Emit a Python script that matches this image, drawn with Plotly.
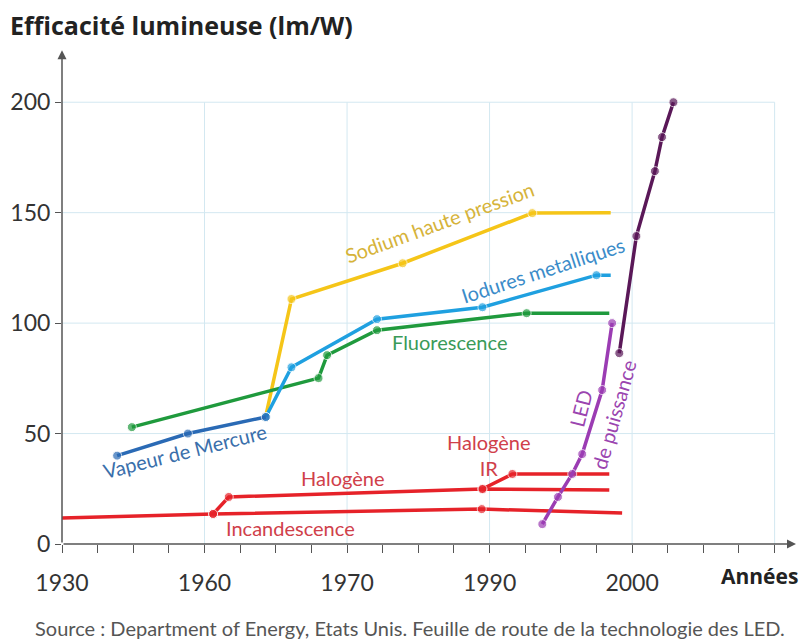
import numpy as np
import plotly.graph_objects as go

# ---- data (years, efficacy lm/W) ----
tick_years = [1930, 1960, 1970, 1990, 2000, 2010]
tick_labels = ["1930", "1960", "1970", "1990", "2000", ""]
y_ticks = [0, 50, 100, 150, 200]

mercure_x = [1941.6, 1956.5, 1964.3]
mercure_y = [40, 50, 57.5]

iodures_x = [1964.3, 1966.1, 1974.2, 1989.0, 1997.5, 1998.5]
iodures_y = [57.5, 80, 101.8, 107.2, 121.7, 121.7]

sodium_x = [1964.3, 1966.1, 1977.8, 1993.0, 1998.5]
sodium_y = [58, 110.9, 127.1, 149.8, 150]

fluo_x = [1944.7, 1968.0, 1968.6, 1974.2, 1992.6, 1998.4]
fluo_y = [52.9, 75.1, 85.5, 96.8, 104.5, 104.5]

incand_x = [1930, 1960.6, 1988.9, 1999.3]
incand_y = [11.8, 13.6, 15.8, 14.0]

halo_x = [1960.6, 1961.7, 1989.0, 1998.4]
halo_y = [13.6, 21.3, 24.9, 24.4]

haloir_x = [1989.0, 1991.6, 1998.4]
haloir_y = [24.9, 31.7, 31.7]

led_x = [1993.7, 1994.8, 1995.8, 1996.5, 1997.9, 1998.6]
led_y = [9.0, 21.3, 31.7, 40.7, 69.7, 100]

led2_x = [1999.1, 2000.3, 2001.6, 2002.1, 2002.9]
led2_y = [86.4, 139.4, 168.8, 184.2, 200]

tick_pos = list(range(len(tick_years)))


def pos(years):
    return np.interp(years, tick_years, tick_pos)


FONT = "Lato"
fig = go.Figure()


def add(xs, ys, color, marks):
    sizes = [9 if m else 0 for m in marks]
    fig.add_trace(go.Scatter(
        x=pos(xs), y=ys, mode="lines+markers",
        line=dict(color=color, width=3.5),
        marker=dict(color=color, size=sizes),
        cliponaxis=False, showlegend=False, hoverinfo="skip"))


add(incand_x, incand_y, "#e62229", [0, 1, 1, 0])
add(halo_x, halo_y, "#e62229", [1, 1, 1, 0])
add(haloir_x, haloir_y, "#e62229", [1, 1, 0])
add(sodium_x, sodium_y, "#f5c518", [0, 1, 1, 1, 0])
add(fluo_x, fluo_y, "#1f9a3d", [1, 1, 1, 1, 1, 0])
add(iodures_x, iodures_y, "#1fa0e0", [1, 1, 1, 1, 1, 0])
add(mercure_x, mercure_y, "#2a6ab5", [1, 1, 1])
add(led_x, led_y, "#9b3cb3", [1, 1, 1, 1, 1, 1])
add(led2_x, led2_y, "#5a1858", [1, 1, 1, 1, 1])

X_MAX = 5.15
Y_MAX = 225

shapes = []
grid_c = "#d3e8f1"
for v in y_ticks[1:]:
    shapes.append(dict(type="line", xref="x", yref="y", x0=0, x1=tick_pos[-1], y0=v, y1=v,
                       line=dict(color=grid_c, width=1), layer="below"))
for p in tick_pos[1:]:
    shapes.append(dict(type="line", xref="x", yref="y", x0=p, x1=p, y0=0, y1=y_ticks[-1],
                       line=dict(color=grid_c, width=1), layer="below"))

ann = []
axis_c = "#555555"
ann.append(dict(x=X_MAX, y=0, ax=0, ay=0, axref="x", ayref="y", xref="x", yref="y",
                showarrow=True, arrowhead=2, arrowsize=1.2, arrowwidth=1.5,
                arrowcolor=axis_c, text=""))
ann.append(dict(x=0, y=223.5, ax=0, ay=0, axref="x", ayref="y", xref="x", yref="y",
                showarrow=True, arrowhead=2, arrowsize=1.2, arrowwidth=1.5,
                arrowcolor=axis_c, text=""))


def label(text, u, v, color, angle=0, size=20):
    ann.append(dict(x=u, y=v, xref="x", yref="y", text=text, showarrow=False,
                    textangle=angle, font=dict(family=FONT, size=size, color=color)))


label("Sodium haute pression", 2.651, 145.7, "#d6b33a", -20)
label("Iodures metalliques", 3.373, 124.0, "#3b8cc9", -18)
label("Fluorescence", 2.721, 91.4, "#3a9a58")
label("Vapeur de Mercure", 0.863, 42.1, "#3a6fab", -14)
label("Halogène", 1.971, 29.9, "#d0404a")
label("Incandescence", 1.606, 7.2, "#d0404a")
label("Halogène<br>IR", 2.994, 40.3, "#d0404a")
label("LED", 3.64, 61.5, "#9b45b0", -76)
label("de puissance", 3.871, 58.4, "#9b45b0", -74)

W = 734.4
H = 497
ann.append(dict(xref="paper", yref="paper", x=(8 - 62) / W, y=(544 - 25) / H,
                xanchor="left", yanchor="middle", showarrow=False,
                text="<b>Efficacité lumineuse (lm/W)</b>",
                font=dict(family="Open Sans", size=25, color="#222222")))
ann.append(dict(xref="paper", yref="paper", x=(800 - 62) / W, y=(544 - 576) / H,
                xanchor="right", yanchor="middle", showarrow=False,
                text="<b>Années</b>",
                font=dict(family="Open Sans", size=21, color="#222222")))
ann.append(dict(xref="paper", yref="paper", x=(410 - 62) / W, y=(544 - 628) / H,
                xanchor="center", yanchor="middle", showarrow=False,
                text="Source : Department of Energy, Etats Unis. Feuille de route de la technologie des LED.",
                font=dict(family=FONT, size=20, color="#555555")))

fig.update_layout(
    width=804, height=644,
    margin=dict(l=62, r=804 - 62 - W, t=47, b=100, autoexpand=False),
    paper_bgcolor="white", plot_bgcolor="white",
    shapes=shapes, annotations=ann,
    xaxis=dict(range=[0, X_MAX], tickvals=tick_pos, ticktext=tick_labels,
               showgrid=False, zeroline=False, showline=False, automargin=False,
               ticks="outside", ticklen=8, tickwidth=1.2, tickcolor=axis_c,
               ticklabelstandoff=10,
               minor=dict(dtick=0.25, tick0=0, ticks="outside", ticklen=8,
                          tickwidth=1.2, tickcolor=axis_c, showgrid=False),
               tickfont=dict(family=FONT, size=23, color="#333333"), fixedrange=True),
    yaxis=dict(range=[0, Y_MAX], tickvals=y_ticks, showgrid=False, zeroline=False,
               showline=False, automargin=False,
               ticks="outside", ticklen=6, tickwidth=1.2, tickcolor=axis_c,
               tickfont=dict(family=FONT, size=23, color="#333333"), fixedrange=True),
)

fig.write_html("out.html", config={"displayModeBar": False},
               post_script="document.body.style.margin='0';")
